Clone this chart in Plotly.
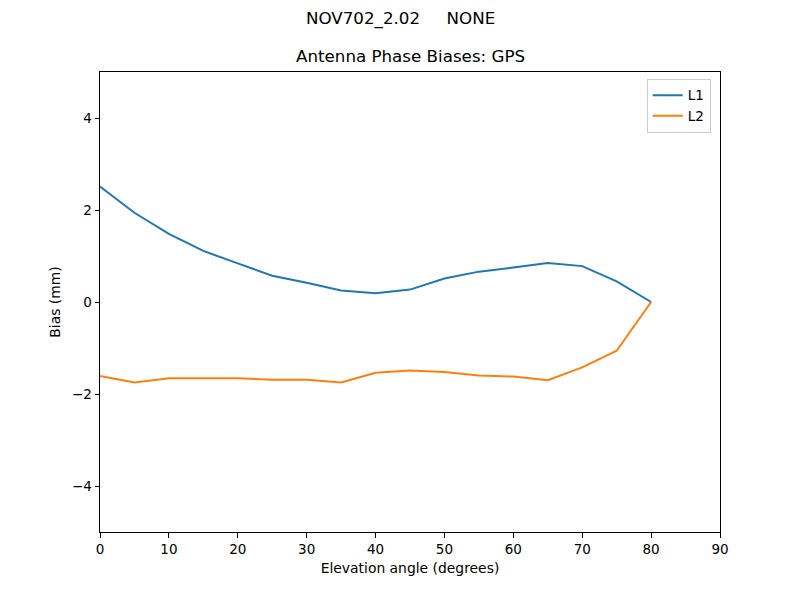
import plotly.graph_objects as go

elevation = [0, 5, 10, 15, 20, 25, 30, 35, 40, 45, 50, 55, 60, 65, 70, 75, 80]
l1_bias = [2.51, 1.94, 1.48, 1.11, 0.84, 0.57, 0.42, 0.25, 0.19, 0.27, 0.51, 0.66, 0.75, 0.85, 0.78, 0.45, 0.0]
l2_bias = [-1.61, -1.75, -1.66, -1.66, -1.66, -1.69, -1.69, -1.75, -1.54, -1.49, -1.52, -1.60, -1.62, -1.70, -1.42, -1.06, 0.0]

x_ticks = [0, 10, 20, 30, 40, 50, 60, 70, 80, 90]
y_ticks = [-4, -2, 0, 2, 4]

FONT = "DejaVu Sans, Verdana, sans-serif"

# page body has an 8px default margin; compensate so the plot area lands at (100..720, 72..532)
OFF = 8
ML, MT = 100 - OFF, 72 - OFF
MR = 800 - (720 - OFF)
MB = 600 - (532 - OFF)
PLOT_W = 800 - ML - MR
PLOT_H = 600 - MT - MB

fig = go.Figure()
fig.add_trace(go.Scatter(x=elevation, y=l1_bias, mode="lines", name="L1",
                         line=dict(color="#1f77b4", width=2)))
fig.add_trace(go.Scatter(x=elevation, y=l2_bias, mode="lines", name="L2",
                         line=dict(color="#ff7f0e", width=2)))

axis_common = dict(showgrid=False, zeroline=False, showline=True, linecolor="black",
                   linewidth=1, mirror=True, ticks="outside", ticklen=4.5, tickwidth=1,
                   tickcolor="black", tickfont=dict(family=FONT, size=13.5, color="black"))

fig.update_layout(
    width=800, height=600,
    paper_bgcolor="white", plot_bgcolor="white",
    margin=dict(l=ML, r=MR, t=MT, b=MB),
    font=dict(family=FONT, color="black"),
    showlegend=True,
    legend=dict(x=0.985, y=0.985, xanchor="right", yanchor="top",
                bordercolor="#cccccc", borderwidth=1, bgcolor="rgba(255,255,255,0.8)",
                font=dict(family=FONT, size=13.5), tracegroupgap=0),
    xaxis=dict(range=[0, 90], tickvals=x_ticks,
               title=dict(text="Elevation angle (degrees)", font=dict(family=FONT, size=13.9), standoff=7),
               **axis_common),
    yaxis=dict(range=[-5, 5], tickvals=y_ticks, ticktext=["\u22124", "\u22122", "0", "2", "4"],
               title=dict(text="Bias (mm)", font=dict(family=FONT, size=13.9), standoff=8),
               **axis_common),
    annotations=[
        dict(text="NOV702_2.02\u00a0\u00a0\u00a0\u00a0\u00a0NONE",
             x=(400 - OFF - ML) / PLOT_W, y=1 + (MT - (18 - OFF)) / PLOT_H,
             xref="paper", yref="paper",
             showarrow=False, font=dict(family=FONT, size=16.7), yanchor="middle"),
        dict(text="Antenna Phase Biases: GPS", x=0.5, y=1.0, xref="paper", yref="paper",
             showarrow=False, font=dict(family=FONT, size=16.7), yanchor="bottom", yshift=4),
    ],
)

fig.write_html("out.html")
